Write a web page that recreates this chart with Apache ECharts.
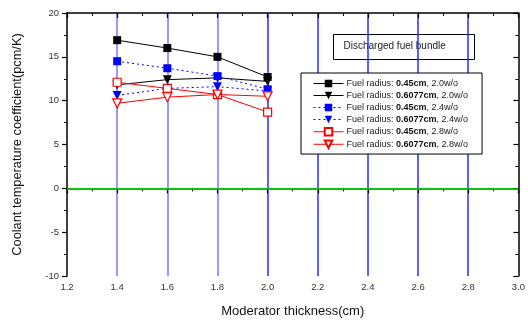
<!DOCTYPE html>
<html>
<head>
<meta charset="utf-8">
<script src="https://cdn.jsdelivr.net/npm/echarts@6/dist/echarts.min.js"></script>
<style>html,body{margin:0;padding:0;background:#fff}#c{width:528px;height:323px}</style>
</head>
<body>
<div id="c"></div>
<script>
// Moderator thickness (cm)
const thickness = [1.4, 1.6, 1.8, 2.0];
// Coolant temperature coefficient (pcm/K) per fuel configuration
const r045_20 = [16.9, 16.0, 15.0, 12.7];
const r6077_20 = [11.8, 12.4, 12.6, 12.2];
const r045_24 = [14.5, 13.7, 12.8, 11.3];
const r6077_24 = [10.6, 11.4, 11.6, 11.1];
const r045_28 = [12.1, 11.4, 10.7, 8.7];
const r6077_28 = [9.7, 10.4, 10.7, 10.5];

const radii = ['0.45cm', '0.6077cm', '0.45cm', '0.6077cm', '0.45cm', '0.6077cm'];
const enrich = ['2.0w/o', '2.0w/o', '2.4w/o', '2.4w/o', '2.8w/o', '2.8w/o'];

const FONT = 'Liberation Sans, Arial, sans-serif';

function pairs(vals) { return thickness.map((x, i) => [x, vals[i]]); }

function mk(idx, vals, color, lineType, symbol, hollow) {
  return {
    name: 's' + idx,
    type: 'line',
    data: pairs(vals),
    symbol: symbol === 'tri' ? 'triangle' : 'rect',
    symbolRotate: symbol === 'tri' ? 180 : 0,
    symbolSize: symbol === 'tri' ? 9 : 8,
    lineStyle: { color: color, width: 1, type: lineType },
    itemStyle: { color: hollow ? '#fff' : color, borderColor: color, borderWidth: hollow ? 1.2 : 0 },
    z: 5 + idx,
    animation: false
  };
}

const series = [
  mk(0, r045_20, '#000', 'solid', 'sq', false),
  mk(1, r6077_20, '#000', 'solid', 'tri', false),
  mk(2, r045_24, '#0000ff', [2, 3], 'sq', false),
  mk(3, r6077_24, '#0000ff', [2, 3], 'tri', false),
  mk(4, r045_28, '#ff0000', 'solid', 'sq', true),
  mk(5, r6077_28, '#ff0000', 'solid', 'tri', true)
];
// zero reference line
series[0].markLine = {
  silent: true, symbol: 'none', label: { show: false },
  lineStyle: { color: '#00ee00', width: 1.5, type: 'solid' },
  data: [{ yAxis: 0 }]
};

const gridLineColors = ['rgba(0,0,0,0)', '#7777ff', '#7777ff', '#7777ff', '#2b2bff', '#2b2bff', '#2b2bff', '#2b2bff', '#2b2bff', 'rgba(0,0,0,0)'];

const chart = echarts.init(document.getElementById('c'), null, { renderer: 'canvas' });
chart.setOption({
  animation: false,
  backgroundColor: '#fff',
  grid: { left: 67, right: 9, top: 13, bottom: 46 },
  xAxis: [{
    type: 'value', min: 1.2, max: 3.0, interval: 0.2,
    name: 'Moderator thickness(cm)', nameLocation: 'middle', nameGap: 29,
    nameTextStyle: { fontFamily: FONT, fontSize: 13, color: '#111' },
    axisLine: { lineStyle: { color: '#000', width: 1.5 } },
    axisTick: { inside: false, length: 5, lineStyle: { color: '#000', width: 1.2 } },
    minorTick: { show: true, splitNumber: 2, length: 3, lineStyle: { color: '#000', width: 1 } },
    axisLabel: { fontFamily: FONT, fontSize: 9.5, color: '#333', margin: 6, formatter: v => v.toFixed(1) },
    splitLine: { show: true, lineStyle: { color: gridLineColors, width: 1.5 } }
  }, {
    type: 'value', position: 'top', min: 1.2, max: 3.0, interval: 0.2,
    axisLine: { show: true, onZero: false, lineStyle: { color: '#000', width: 1.5 } },
    axisTick: { inside: true, length: 5, lineStyle: { color: '#000', width: 1.2 } },
    minorTick: { show: true, splitNumber: 2, length: 3, lineStyle: { color: '#000' } },
    axisLabel: { show: false }, splitLine: { show: false }
  }],
  yAxis: [{
    type: 'value', min: -10, max: 20, interval: 5,
    name: 'Coolant temperature coefficient(pcm/K)', nameLocation: 'middle', nameGap: 43,
    nameTextStyle: { fontFamily: FONT, fontSize: 12.8, color: '#111' },
    axisLine: { show: true, lineStyle: { color: '#000', width: 1.5 } },
    axisTick: { inside: false, length: 5, lineStyle: { color: '#000', width: 1.2 } },
    minorTick: { show: true, splitNumber: 2, length: 3, lineStyle: { color: '#000' } },
    axisLabel: { fontFamily: FONT, fontSize: 9.5, color: '#333', margin: 8 },
    splitLine: { show: false }
  }, {
    type: 'value', position: 'right', min: -10, max: 20, interval: 5,
    axisLine: { show: true, onZero: false, lineStyle: { color: '#000', width: 1.5 } },
    axisTick: { inside: true, length: 5, lineStyle: { color: '#000', width: 1.2 } },
    minorTick: { show: true, splitNumber: 2, length: 3, lineStyle: { color: '#000' } },
    axisLabel: { show: false }, splitLine: { show: false }
  }],
  legend: {
    left: 301, top: 73, orient: 'vertical',
    padding: [6, 14, 5, 12],
    itemGap: 3, itemWidth: 30, itemHeight: 9.4,
    backgroundColor: '#fff', borderColor: '#000', borderWidth: 1,
    lineStyle: { width: 1 },
    data: series.map(s => s.name),
    formatter: name => {
      const i = +name.slice(1);
      return 'Fuel radius: {b|' + radii[i] + '}, ' + enrich[i];
    },
    textStyle: {
      fontFamily: FONT, fontSize: 9, color: '#222', padding: [0, 0, 0, -2],
      rich: { b: { fontFamily: FONT, fontSize: 9, fontWeight: 'bold', color: '#111' } }
    }
  },
  graphic: [{
    type: 'group', left: 333, top: 34, z: 100,
    children: [
      { type: 'rect', shape: { x: 0, y: 0, width: 141, height: 25 }, style: { fill: '#fff', stroke: '#000', lineWidth: 1 } },
      { type: 'text', x: 10, y: 7, style: { text: 'Discharged fuel bundle', font: '10px Liberation Sans, Arial, sans-serif', fill: '#222' } }
    ]
  }],
  series: series
});
</script>
</body>
</html>
